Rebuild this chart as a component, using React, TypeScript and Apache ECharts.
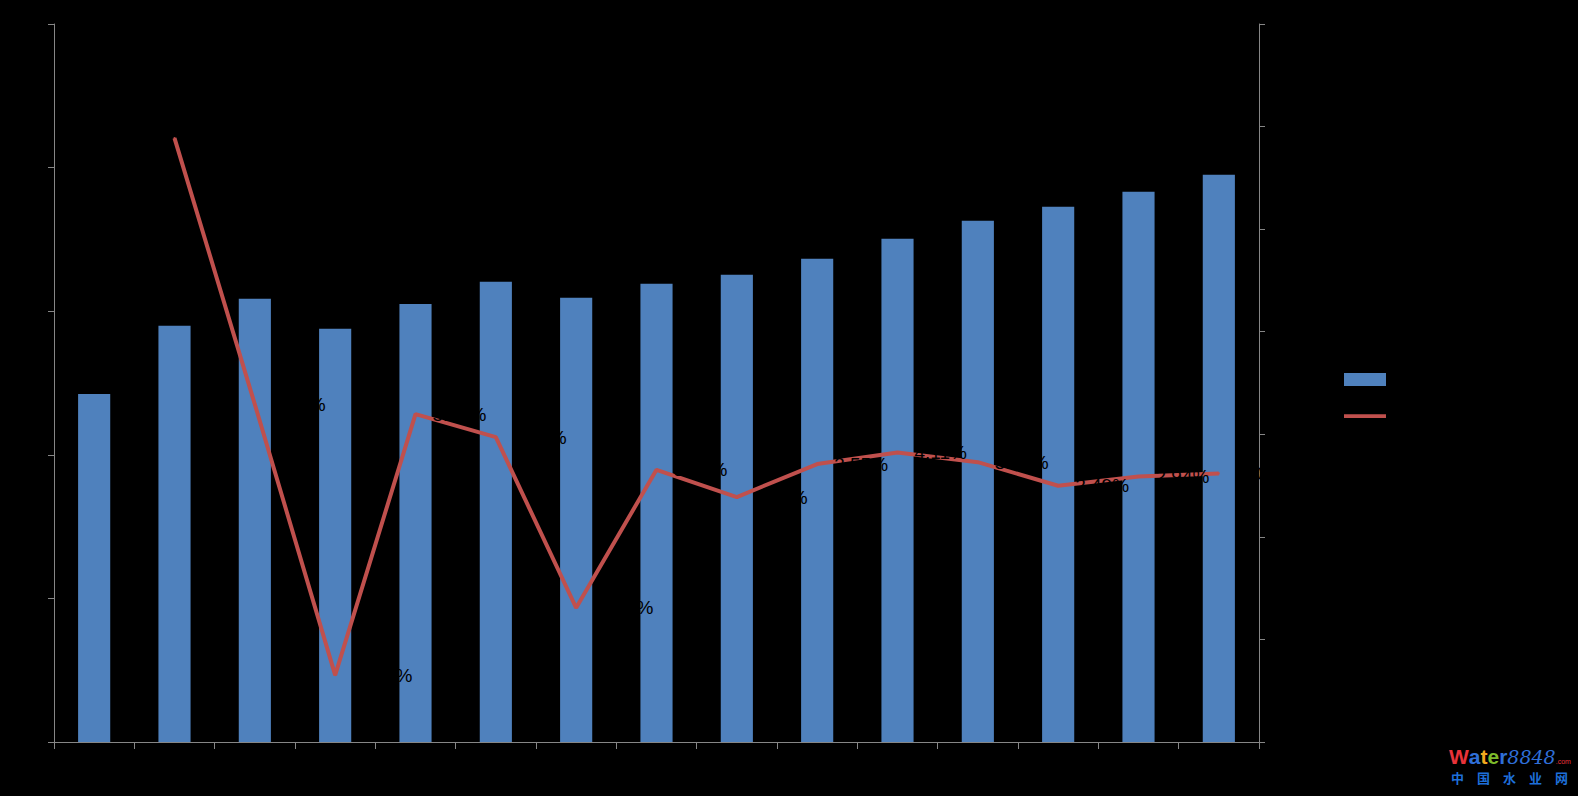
import React, { useEffect, useRef } from "react";
import * as echarts from "echarts";

const categories = ["2000", "2001", "2002", "2003", "2004", "2005", "2006", "2007", "2008", "2009", "2010", "2011", "2012", "2013", "2014"];
const volumeValues = [242.4, 289.8, 308.6, 287.7, 305.1, 320.5, 309.3, 319.1, 325.3, 336.5, 350.4, 363.0, 372.7, 383.2, 395.0];
const growthValues: (number | string)[] = ["-", 19.44, 6.46, -6.74, 5.98, 4.86, -3.46, 3.27, 1.94, 3.55, 4.11, 3.64, 2.49, 2.94, 3.09];
const seriesNames = ["供水量", "增长率"];

const AXIS_GREY = "#868686";
const BAR_BLUE = "#4F81BD";
const LINE_RED = "#C0504D";

// thin horizontal bar icon inside a 44x13 box (corner points keep the box size)
const LINE_ICON = "path://M0,0L0.01,0M44,13L44.01,13M0,4.5L44,4.5L44,8.5L0,8.5Z";

export default function App() {
  const ref = useRef<HTMLDivElement>(null);
  useEffect(() => {
    if (!ref.current) return;
    const chart = echarts.init(ref.current, undefined, { renderer: "svg" });
    chart.setOption({
      animation: false,
      backgroundColor: "#000000",
      grid: { left: 54, right: 319, top: 24, bottom: 54, containLabel: false },
      legend: {
        orient: "vertical",
        left: 1344,
        top: 373,
        padding: 0,
        itemWidth: 42,
        itemHeight: 13,
        itemGap: 24,
        textStyle: { color: "#000000", fontSize: 12 },
        data: [
          { name: seriesNames[0], icon: "rect" },
          { name: seriesNames[1], icon: LINE_ICON },
        ],
      },
      xAxis: {
        type: "category",
        data: categories,
        boundaryGap: true,
        axisLine: { lineStyle: { color: AXIS_GREY, width: 1 } },
        axisTick: { show: true, length: 7, lineStyle: { color: AXIS_GREY } },
        axisLabel: { color: "#000000", fontSize: 14 },
        splitLine: { show: false },
      },
      yAxis: [
        {
          type: "value",
          min: 0,
          max: 500,
          interval: 100,
          axisLine: { show: true, lineStyle: { color: AXIS_GREY, width: 1 } },
          axisTick: { show: true, length: 6, lineStyle: { color: AXIS_GREY } },
          axisLabel: { color: "#000000", fontSize: 14 },
          splitLine: { show: false },
        },
        {
          type: "value",
          min: -10,
          max: 25,
          interval: 5,
          position: "right",
          axisLine: { show: true, lineStyle: { color: AXIS_GREY, width: 1 } },
          axisTick: { show: true, length: 6, lineStyle: { color: AXIS_GREY } },
          axisLabel: { color: "#000000", fontSize: 14, formatter: "{value}%" },
          splitLine: { show: false },
        },
      ],
      series: [
        {
          name: seriesNames[0],
          type: "bar",
          yAxisIndex: 0,
          barWidth: "40%",
          data: volumeValues,
          itemStyle: { color: BAR_BLUE },
        },
        {
          name: seriesNames[1],
          type: "line",
          yAxisIndex: 1,
          data: growthValues,
          symbol: "circle",
          symbolSize: 2,
          showSymbol: true,
          lineStyle: { color: LINE_RED, width: 4 },
          itemStyle: { color: LINE_RED },
          label: {
            show: true,
            position: "right",
            distance: 16,
            color: "#000000",
            fontSize: 19,
            fontFamily: "Liberation Sans",
            formatter: "{c}%",
          },
        },
      ],
      graphic: [
        {
          type: "text",
          left: 1449,
          top: 746,
          style: {
            text: "{w|W}{a|a}{t|t}{e|e}{r|r}{n|8848}{c|.com}",
            rich: {
              w: { fill: "#E8333A", fontSize: 21, fontWeight: "bold", fontFamily: "Liberation Sans" },
              a: { fill: "#2F6FD8", fontSize: 21, fontWeight: "bold", fontFamily: "Liberation Sans" },
              t: { fill: "#F2A91E", fontSize: 21, fontWeight: "bold", fontFamily: "Liberation Sans" },
              e: { fill: "#7DBB2B", fontSize: 21, fontWeight: "bold", fontFamily: "Liberation Sans" },
              r: { fill: "#2F6FD8", fontSize: 21, fontWeight: "bold", fontFamily: "Liberation Sans" },
              n: { fill: "#2F6FD8", fontSize: 19, fontStyle: "italic", fontFamily: "DejaVu Serif" },
              c: { fill: "#E8333A", fontSize: 7, fontFamily: "Liberation Sans", padding: [9, 0, 0, 0] },
            },
          },
        },
        {
          type: "text",
          left: 1451,
          top: 771,
          style: {
            text: "中　国　水　业　网",
            fill: "#1E6FD9",
            fontSize: 13,
            fontWeight: "bold",
            fontFamily: "Noto Sans CJK SC",
          },
        },
      ],
    });
    return () => chart.dispose();
  }, []);
  return (
    <div
      ref={ref}
      style={{ position: "fixed", left: 0, top: 0, width: "100vw", height: "100vh", background: "#000" }}
    />
  );
}
